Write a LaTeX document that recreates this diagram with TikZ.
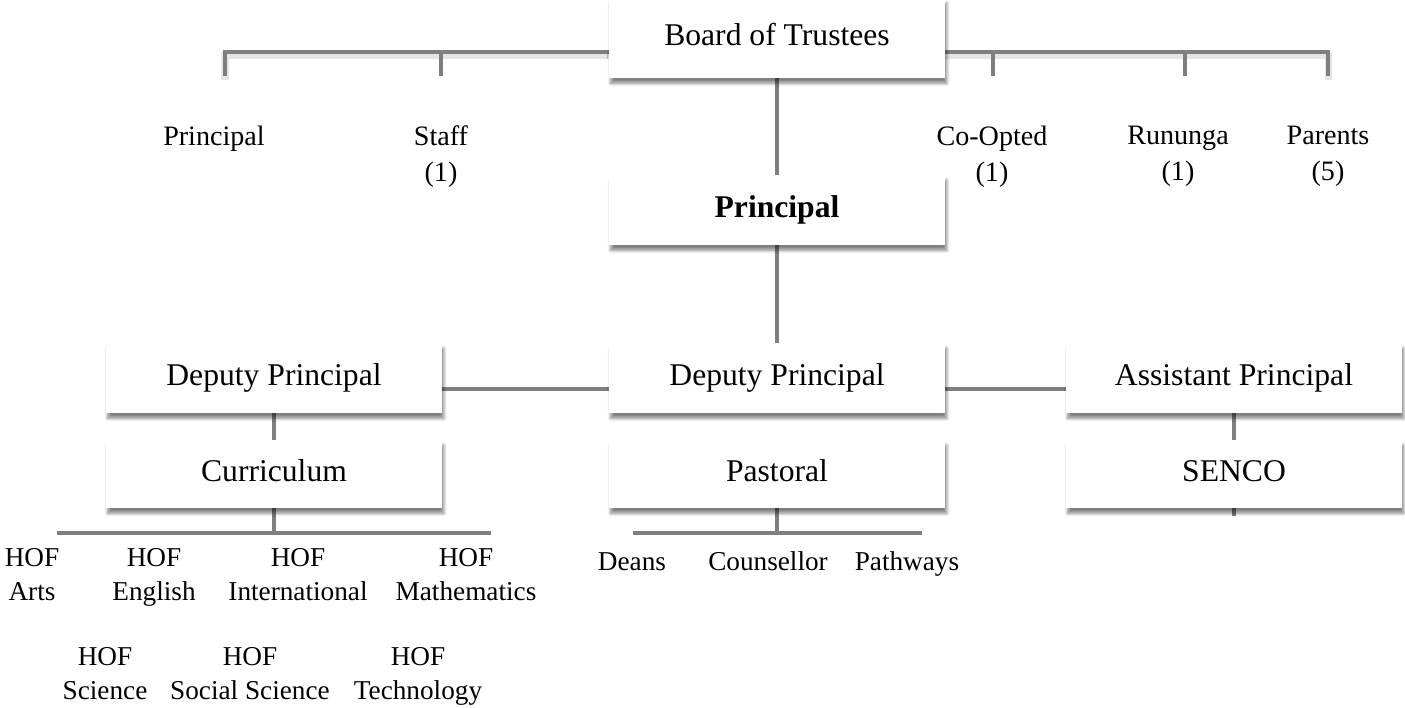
\documentclass[tikz,border=0pt]{standalone}
\usepackage{fontspec}
\setmainfont{Liberation Serif}
\usetikzlibrary{positioning,calc,backgrounds,shadows.blur}
\definecolor{linkgray}{HTML}{7F7F7F}

\tikzset{
  unit/.style={rectangle, fill=white, minimum width=6.72cm, minimum height=1.4cm, inner sep=0pt,
    blur shadow={shadow xshift=1pt, shadow yshift=-3pt, shadow blur steps=6, shadow opacity=50},
    font=\fontsize{18}{22}\selectfont, execute at begin node=\strut},
  lbl/.style={align=center, inner sep=0pt, font=\fontsize{16}{20.5}\selectfont,
    execute at begin node=\strut, execute at end node=\strut},
  hof/.style={align=center, inner sep=0pt, font=\fontsize{15.5}{19.4}\selectfont,
    execute at begin node=\strut, execute at end node=\strut},
  link/.style={draw=linkgray, line width=2.8pt,
    preaction={draw=black!10, line width=4pt, transform canvas={yshift=-2pt}}},
}

\begin{document}
\begin{tikzpicture}[x=0.02cm, y=-0.02cm]
  \useasboundingbox (0,0) rectangle (1405,707);

  % boxes
  \draw (777,38) node[unit, minimum height=1.6cm] (board) {Board of Trustees};
  \draw (777,210) node[unit] (prin) {\textbf{Principal}};
  \draw (274,378) node[unit] (dpl) {Deputy Principal};
  \draw (777,378) node[unit] (dpc) {Deputy Principal};
  \draw (1234,378) node[unit] (ap) {Assistant Principal};
  \draw (274,474) node[unit, minimum height=1.36cm] (curr) {Curriculum};
  \draw (777,474) node[unit, minimum height=1.36cm] (past) {Pastoral};
  \draw (1234,474) node[unit, minimum height=1.36cm] (senco) {SENCO};

  % board members
  \draw (214,138) node[lbl] (tprin) {Principal};
  \draw (441,159) node[lbl] (staff) {Staff\\(1)};
  \draw (992,159) node[lbl] (coopt) {Co-Opted\\(1)};
  \draw (1178,159) node[lbl] (runu) {Rununga\\(1)};
  \draw (1328,159) node[lbl] (parent) {Parents\\(5)};

  % faculties
  \draw (32,580) node[hof] (harts) {HOF\\Arts};
  \draw (154,580) node[hof] (heng) {HOF\\English};
  \draw (298,580) node[hof] (hint) {HOF\\International};
  \draw (466,580) node[hof] (hmath) {HOF\\Mathematics};
  \draw (105,679) node[hof] (hsci) {HOF\\Science};
  \draw (250,679) node[hof] (hsoc) {HOF\\Social Science};
  \draw (418,679) node[hof] (htech) {HOF\\Technology};
  \draw (632,564) node[hof] (deans) {Deans};
  \draw (768,564) node[hof] (couns) {Counsellor};
  \draw (907,564) node[hof] (paths) {Pathways};

  \coordinate (barL) at (225,52);
  \coordinate (barR) at (1328,52);
  \coordinate (kprin) at (225,76);
  \coordinate (kstaff) at (441,76);
  \coordinate (kcoopt) at (993,76);
  \coordinate (krunu) at (1185,76);
  \coordinate (kpar) at (1328,76);
  \coordinate (rowL) at (274,389);
  \coordinate (rowR) at (1234,389);
  \coordinate (cfL) at (57,533);
  \coordinate (cfR) at (491,533);
  \coordinate (pfL) at (633,533);
  \coordinate (pfR) at (922,533);
  \coordinate (stub) at (1234,516);

  % connectors
  \begin{scope}[on background layer]
    \draw[link] (kprin) -- (barL) -- (barR) -- (kpar);
    \path[link]
    (kstaff |- barL) edge (kstaff)
    (kcoopt |- barL) edge (kcoopt)
    (krunu |- barL) edge (krunu)
    (board) edge (prin)
    (prin) edge (dpc)
    (rowL) edge (rowR)
    (dpl) edge (curr)
    (ap) edge (senco)
    (senco) edge (stub)
    (curr) edge (curr |- cfL)
    (cfL) edge (cfR)
    (past) edge (past |- pfL)
    (pfL) edge (pfR);
  \end{scope}
\end{tikzpicture}
\end{document}
